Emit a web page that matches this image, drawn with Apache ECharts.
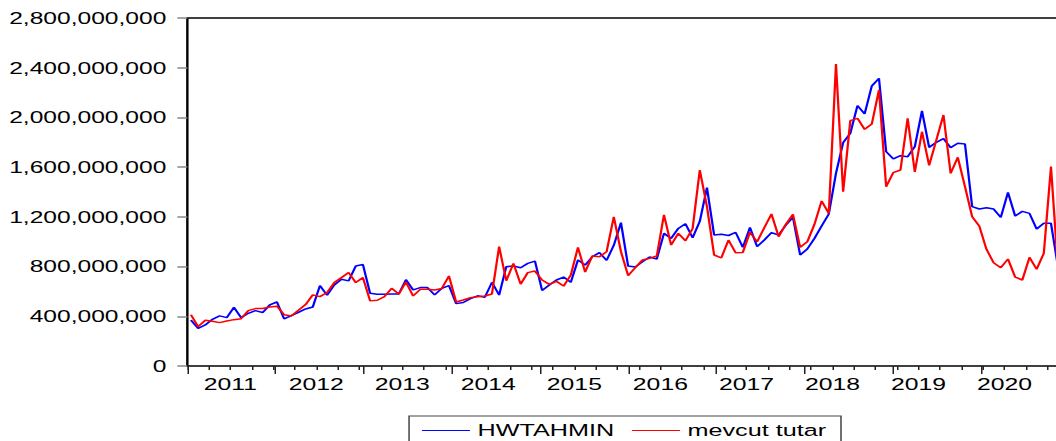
<!DOCTYPE html>
<html>
<head>
<meta charset="utf-8">
<script src="https://cdn.jsdelivr.net/npm/echarts@6/dist/echarts.min.js"></script>
<style>
    html, body {margin: 0; padding: 0; background: #fff; overflow: hidden;}
    /* the reference is a horizontally stretched EViews graph */
    #chart {width: 704px; height: 441px; transform: scaleX(1.5); transform-origin: 0 0;}
</style>
</head>
<body>
<div id="chart"></div>
<script>
var startYear = 2011;   // first observation: 2011M01, monthly
var monthCount = 123;   // axis span in months (plot is cut at the right edge)
var seriesNames = ['HWTAHMIN', 'mevcut tutar'];

// HW forecast, millions
var hwTahmin = [
    370, 303, 330, 376, 403, 389, 472, 389, 424, 446, 430, 491,
    515, 379, 405, 432, 459, 475, 647, 569, 652, 698, 685, 805,
    816, 585, 577, 577, 580, 580, 695, 612, 631, 631, 572, 625,
    647, 502, 511, 542, 565, 552, 673, 571, 799, 804, 791, 826,
    844, 608, 651, 692, 716, 673, 853, 812, 879, 912, 850, 971,
    1153, 804, 796, 839, 877, 861, 1067, 1027, 1107, 1145, 1032, 1164,
    1435, 1054, 1060, 1050, 1075, 955, 1114, 960, 1014, 1073, 1054, 1134,
    1196, 893, 941, 1027, 1126, 1223, 1550, 1797, 1872, 2095, 2028, 2253,
    2315, 1725, 1666, 1692, 1684, 1765, 2052, 1759, 1800, 1829, 1757, 1792,
    1786, 1282, 1263, 1274, 1263, 1196, 1397, 1207, 1244, 1228, 1102, 1148,
    1148, 790
];

// actual values, millions
var mevcutTutar = [
    413, 317, 368, 360, 349, 362, 373, 381, 446, 462, 462, 475,
    481, 413, 403, 448, 494, 572, 558, 591, 671, 711, 752, 671,
    711, 524, 529, 558, 625, 580, 676, 564, 617, 617, 612, 623,
    725, 515, 531, 549, 557, 563, 579, 960, 686, 826, 659, 751,
    764, 692, 657, 681, 643, 732, 955, 756, 885, 879, 920, 1201,
    920, 727, 791, 853, 866, 885, 1217, 973, 1067, 1008, 1107, 1577,
    1282, 893, 870, 1013, 912, 913, 1076, 1000, 1113, 1223, 1041, 1140,
    1220, 955, 1000, 1140, 1328, 1228, 2430, 1403, 1974, 1993, 1904, 1947,
    2221, 1443, 1556, 1577, 1993, 1561, 1885, 1615, 1818, 2020, 1550, 1679,
    1443, 1202, 1126, 939, 831, 791, 861, 716, 692, 874, 778, 907,
    1604, 760
];

// each month is drawn at the middle of its interval
function toPoints(arr) {
    var out = [];
    for (var i = 0; i < arr.length; i++) {
        out.push([i + 0.5, arr[i] * 1e6]);
    }
    return out;
}

function commas(v) {
    return String(v).replace(/\B(?=(\d{3})+(?!\d))/g, ',');
}

var font = 'Liberation Sans, Arial, sans-serif';

var option = {
    animation: false,
    color: ['#0000ff', '#ff0000'],
    grid: {
        left: 124.9,
        top: 18,
        width: 587.7,
        height: 348,
        outerBoundsMode: 'none',
        containLabel: false,
        show: true,
        borderColor: '#000',
        borderWidth: 1.6,
        backgroundColor: 'transparent'
    },
    legend: {
        data: seriesNames,
        left: 272.7,
        top: 416,
        orient: 'horizontal',
        icon: 'rect',
        padding: [6, 10, 30, 8.6],
        itemGap: 12,
        itemWidth: 32,
        itemHeight: 1.2,
        borderColor: '#444',
        borderWidth: 1,
        backgroundColor: '#fff',
        textStyle: {color: '#000', fontSize: 16.8, fontFamily: font}
    },
    xAxis: [
        {
            type: 'value',
            min: 0,
            max: monthCount,
            interval: 3,
            axisLine: {show: false},
            splitLine: {show: false},
            axisTick: {show: true, length: 4, lineStyle: {color: '#222', width: 1}},
            axisLabel: {
                margin: 10,
                color: '#000',
                fontSize: 16.5,
                fontFamily: font,
                showMinLabel: true,
                showMaxLabel: false,
                formatter: function (v) {
                    if (v % 12 == 6) {
                        return String(startYear + Math.floor(v / 12));
                    }
                    return '';
                }
            }
        },
        {
            // longer ticks at year boundaries
            type: 'value',
            position: 'bottom',
            min: 0,
            max: 120,
            interval: 12,
            axisLine: {show: false},
            splitLine: {show: false},
            axisLabel: {show: false},
            axisTick: {show: true, length: 8, lineStyle: {color: '#222', width: 1}}
        }
    ],
    yAxis: {
        type: 'value',
        min: 0,
        max: 2800000000,
        interval: 400000000,
        axisLine: {show: false},
        splitLine: {show: false},
        axisTick: {show: true, length: 6.7, lineStyle: {color: '#888', width: 1.5}},
        axisLabel: {
            margin: 14,
            color: '#000',
            fontSize: 16.4,
            fontFamily: font,
            formatter: function (v) {
                return commas(v);
            }
        }
    },
    series: [
        {
            name: seriesNames[0],
            type: 'line',
            data: toPoints(hwTahmin),
            symbol: 'none',
            lineStyle: {width: 1.5, color: '#0000ff'}
        },
        {
            name: seriesNames[1],
            type: 'line',
            data: toPoints(mevcutTutar),
            symbol: 'none',
            lineStyle: {width: 1.5, color: '#ff0000'}
        }
    ]
};

var mychart = echarts.init(document.getElementById('chart'), null, {renderer: 'svg'});
mychart.setOption(option);
</script>
</body>
</html>
